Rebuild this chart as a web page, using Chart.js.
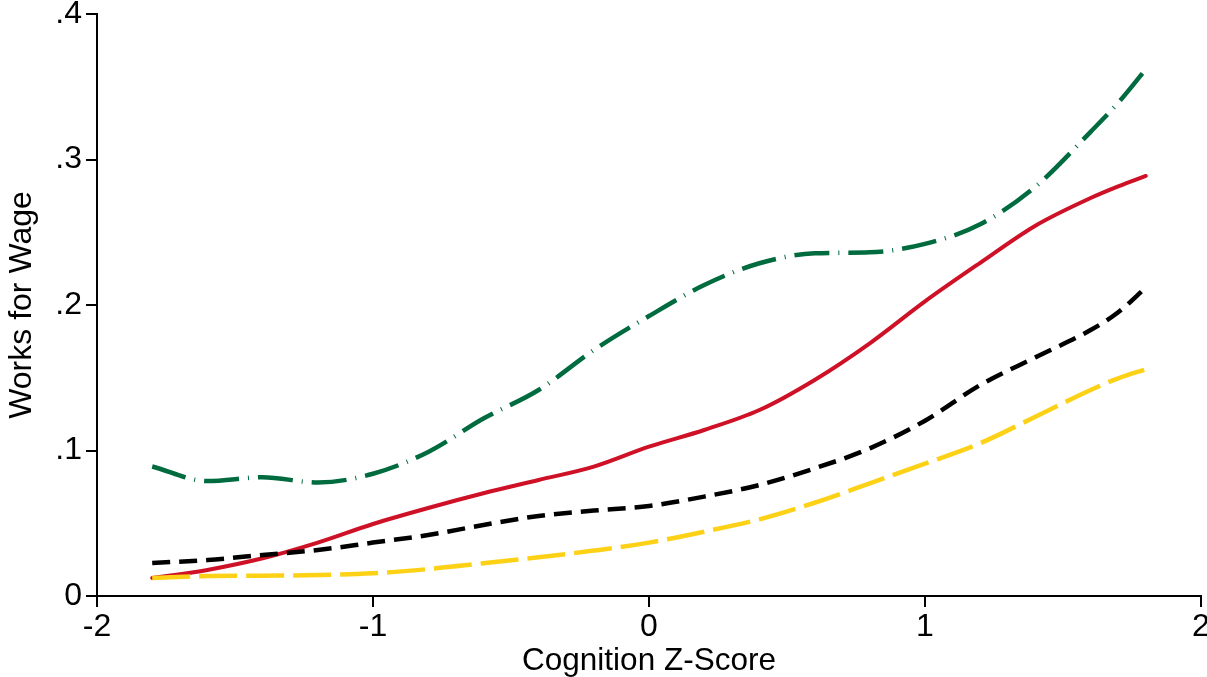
<!DOCTYPE html>
<html>
<head>
<meta charset="utf-8">
<script src="https://cdn.jsdelivr.net/npm/chart.js@4/dist/chart.umd.min.js"></script>
<style>
  html, body { margin: 0; padding: 0; background: #fff; }
  #wrap { width: 1207px; height: 677px; }
</style>
</head>
<body>
<div id="wrap"><canvas id="chart" width="1207" height="677"></canvas></div>
<script>
// ── Data ──────────────────────────────────────────────────────
var Z_SCORES = [-1.8, -1.6, -1.4, -1.2, -1.0, -0.8, -0.6, -0.4, -0.2, 0, 0.2, 0.4, 0.6, 0.8, 1.0, 1.2, 1.4, 1.6, 1.7, 1.8];
var GREEN  = [0.089, 0.079, 0.0816, 0.078, 0.084, 0.099, 0.122, 0.1416, 0.169, 0.1924, 0.2137, 0.2287, 0.2355, 0.2362, 0.242, 0.2555, 0.2813, 0.319, 0.339, 0.362];
var RED    = [0.0124, 0.0179, 0.0259, 0.0367, 0.0495, 0.0605, 0.0706, 0.0797, 0.0889, 0.1026, 0.1141, 0.1278, 0.1485, 0.1737, 0.2025, 0.229, 0.2545, 0.2735, 0.2815, 0.2887];
var BLACK  = [0.0227, 0.0247, 0.0282, 0.0316, 0.0367, 0.0419, 0.0488, 0.055, 0.0587, 0.0619, 0.0683, 0.0763, 0.0877, 0.1015, 0.1205, 0.145, 0.164, 0.1828, 0.195, 0.212];
var YELLOW = [0.0124, 0.0137, 0.014, 0.0144, 0.0156, 0.0185, 0.0225, 0.0266, 0.0312, 0.0367, 0.0442, 0.0527, 0.0641, 0.0774, 0.091, 0.105, 0.1232, 0.1416, 0.1496, 0.1558];

var X_TICKS = [-2, -1, 0, 1, 2];
var Y_TICKS = [0, 0.1, 0.2, 0.3, 0.4];
var Y_TICK_LABELS = ['0', '.1', '.2', '.3', '.4'];

function pts(ys) {
  return Z_SCORES.map(function (x, i) { return { x: x, y: ys[i] }; });
}

Chart.defaults.font.family = '"Liberation Sans", Arial, sans-serif';
Chart.defaults.color = '#000';

// fixed axis boxes so the plot area sits where the reference has it
function fixBox(w, h) {
  return function (scale) {
    if (w != null) scale.width = w;
    if (h != null) scale.height = h;
    scale.paddingLeft = 0; scale.paddingRight = 0;
    scale.paddingTop = 0; scale.paddingBottom = 0;
  };
}

var axisGrid = { drawOnChartArea: false, drawTicks: true, tickLength: 11, color: '#000', lineWidth: 2 };
var axisBorder = { display: true, color: '#000', width: 2 };

new Chart(document.getElementById('chart').getContext('2d'), {
  type: 'line',
  data: {
    datasets: [
      { label: 'green', data: pts(GREEN), borderColor: '#006b3f', borderWidth: 4.5,
        borderDash: [35, 9, 1, 9], order: 1 },
      { label: 'yellow', data: pts(YELLOW), borderColor: '#fcd116', borderWidth: 4.5,
        borderDash: [38, 9], order: 2 },
      { label: 'black', data: pts(BLACK), borderColor: '#000000', borderWidth: 4.5,
        borderDash: [18, 9], order: 3 },
      { label: 'red', data: pts(RED), borderColor: '#ce1126', borderWidth: 4,
        borderCapStyle: 'round', order: 4 }
    ]
  },
  options: {
    responsive: false,
    animation: false,
    devicePixelRatio: 1,
    layout: { padding: { top: 14, right: 6, left: 0, bottom: 0 } },
    elements: {
      point: { radius: 0 },
      line: { cubicInterpolationMode: 'monotone', fill: false }
    },
    plugins: { legend: { display: false }, tooltip: { enabled: false } },
    scales: {
      x: {
        type: 'linear', min: -2, max: 2,
        afterBuildTicks: function (s) { s.ticks = X_TICKS.map(function (v) { return { value: v }; }); },
        afterFit: fixBox(null, 81),
        grid: axisGrid, border: axisBorder,
        ticks: { padding: 1, font: { size: 32, lineHeight: 1.2 }, maxRotation: 0,
          callback: function (v) { return String(v); } },
        title: { display: true, text: 'Cognition Z-Score', font: { size: 31.5, lineHeight: 1 },
          padding: { top: 0, bottom: 0 } }
      },
      y: {
        type: 'linear', min: 0, max: 0.4,
        afterBuildTicks: function (s) { s.ticks = Y_TICKS.map(function (v) { return { value: v }; }); },
        afterFit: fixBox(97, null),
        grid: axisGrid, border: axisBorder,
        ticks: { padding: 4, font: { size: 32 },
          callback: function (v) {
            var i = Y_TICKS.findIndex(function (t) { return Math.abs(t - v) < 1e-9; });
            return i >= 0 ? Y_TICK_LABELS[i] : '';
          } },
        title: { display: true, text: 'Works for Wage', font: { size: 32, lineHeight: 1 },
          padding: { top: 6, bottom: 0 } }
      }
    }
  }
});
</script>
</body>
</html>
